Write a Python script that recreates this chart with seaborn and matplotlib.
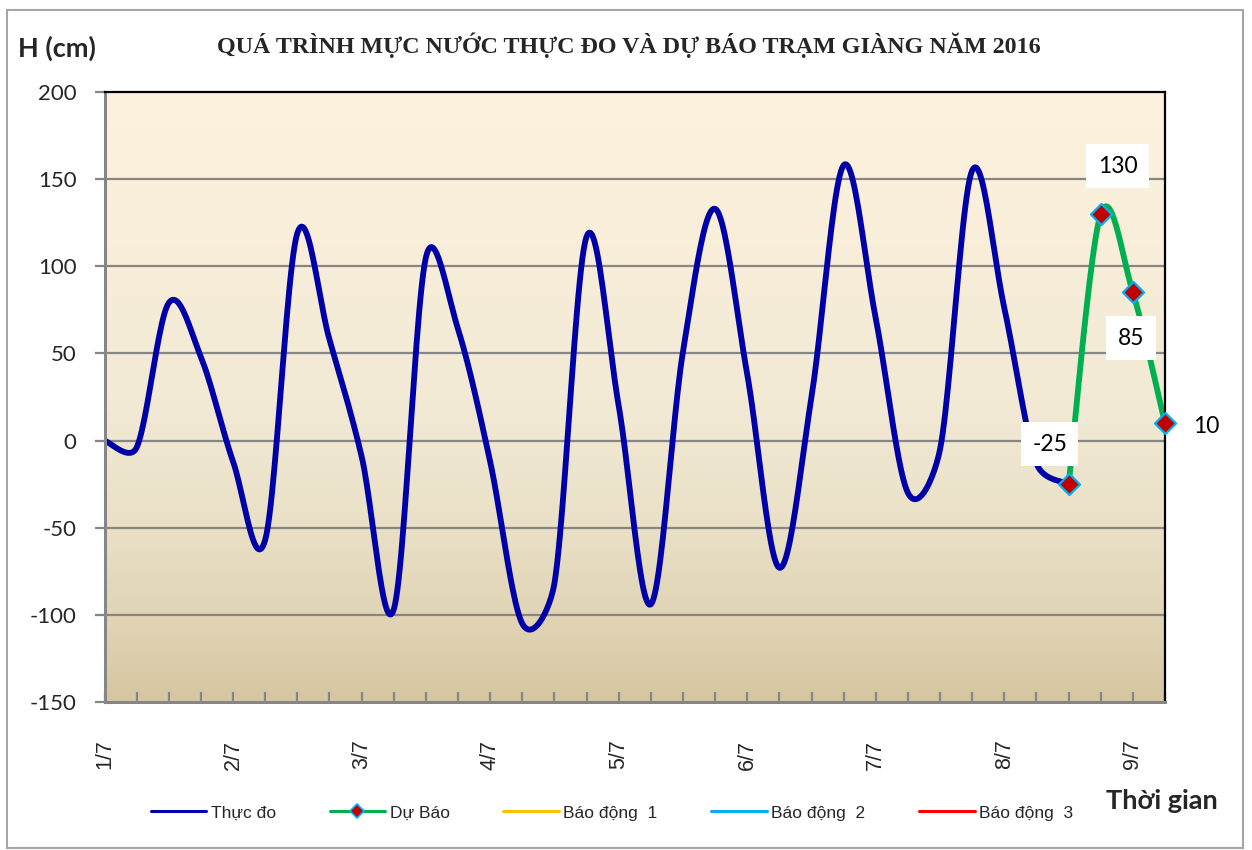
import numpy as np
import pandas as pd
import matplotlib
matplotlib.use("Agg")
import matplotlib.pyplot as plt
import seaborn as sns
from matplotlib.colors import LinearSegmentedColormap
from matplotlib.lines import Line2D
from matplotlib.patches import Rectangle

# ---------------- data ----------------
day_labels = ["1/7", "2/7", "3/7", "4/7", "5/7", "6/7", "7/7", "8/7", "9/7"]
steps_per_day = 4  # 6-hourly observations
observed = [0, -4, 79, 48, -12, -57, 119, 58, -9, -97, 105, 64, -12, -105, -82, 117,
            20, -94, 51, 133, 38, -73, 25, 158, 70, -30, -5, 155, 76, -13, -25]
forecast = [-25, 130, 85, 10]
forecast_start = len(observed) - 1
series_names = ["Thực đo", "Dự Báo", "Báo động  1", "Báo động  2", "Báo động  3"]
series_colors = ["#0000A8", "#00B050", "#FFC000", "#00B0F0", "#FF0000"]
title = "QUÁ TRÌNH MỰC NƯỚC THỰC ĐO VÀ DỰ BÁO TRẠM GIÀNG NĂM 2016"
ylabel = "H (cm)"
xlabel = "Thời gian"
y_min, y_max, y_step = -150, 200, 50

W, H = 1252, 850
L, R, T, B = 104.5, 1165, 92, 702


def smooth(x, y, sx_px, sy_px, n=24):
    """Excel-like Bezier smoothing: arms (P[i+1]-P[i-1])/6, capped at half segment."""
    P = np.column_stack([np.asarray(x, float) * sx_px, np.asarray(y, float) * sy_px])
    k = len(P)
    Q = np.vstack([P[:1], P, P[-1:]])  # padded ends
    pts = []
    t = np.linspace(0, 1, n, endpoint=False)[:, None]
    for i in range(k - 1):
        p0, p1, p2, p3 = Q[i], Q[i + 1], Q[i + 2], Q[i + 3]
        seg = np.linalg.norm(p2 - p1)
        a1 = (p2 - p0) / 6.0
        a2 = (p3 - p1) / 6.0
        for a in (a1, a2):
            la = np.linalg.norm(a)
            if la > seg / 2 and la > 0:
                a *= (seg / 2) / la
        c1 = p1 + a1
        c2 = p2 - a2
        b = ((1 - t) ** 3 * p1 + 3 * (1 - t) ** 2 * t * c1
             + 3 * (1 - t) * t ** 2 * c2 + t ** 3 * p2)
        pts.append(b)
    pts.append(P[-1:])
    pts = np.vstack(pts)
    return pts[:, 0] / sx_px, pts[:, 1] / sy_px


x_max = forecast_start + len(forecast) - 1
px_x = (R - L) / x_max
px_y = (B - T) / (y_max - y_min)

obs_x = np.arange(len(observed))
fc_x = np.arange(forecast_start, forecast_start + len(forecast))
sx, sy = smooth(obs_x, observed, px_x, px_y)
fx, fy = smooth(fc_x, forecast, px_x, px_y)
df_obs = pd.DataFrame({"x": sx, "y": sy})
df_fc = pd.DataFrame({"x": fx, "y": fy})
df_pts = pd.DataFrame({"x": fc_x, "y": forecast})

# ---------------- figure ----------------
sns.set_theme(style="white")
plt.rcParams["font.family"] = ["Liberation Sans", "DejaVu Sans"]
fig = plt.figure(figsize=(W / 100, H / 100), dpi=100)
fig.patch.set_facecolor("white")

ax = fig.add_axes([L / W, 1 - B / H, (R - L) / W, (B - T) / H])
ax.set_xlim(0, x_max)
ax.set_ylim(y_min, y_max)

# gradient background
cmap = LinearSegmentedColormap.from_list(
    "bg", [(0.0, "#D5C6A0"), (0.12, "#DFD3B3"), (0.3, "#EAE1C8"),
           (0.5, "#F2EAD5"), (0.75, "#F8EEDA"), (1.0, "#FDF2DE")])
grad = np.linspace(0, 1, 256).reshape(-1, 1)
ax.imshow(grad, extent=[0, x_max, y_min, y_max], origin="lower", aspect="auto",
          cmap=cmap, zorder=0)

# gridlines
for v in range(y_min + y_step, y_max, y_step):
    ax.axhline(v, color="#868686", lw=1.6, zorder=1)

sns.lineplot(data=df_obs, x="x", y="y", ax=ax, color=series_colors[0], lw=4.2,
             zorder=3, sort=False, estimator=None)
sns.lineplot(data=df_fc, x="x", y="y", ax=ax, color=series_colors[1], lw=4.2,
             zorder=3, sort=False, estimator=None)
sns.scatterplot(data=df_pts, x="x", y="y", ax=ax, marker="D", s=115,
                color="#C00000", edgecolor="#00B0F0", linewidth=1.6, zorder=5,
                clip_on=False)

# data labels (offsets in pixels)
lab_font = dict(family=["Lato", "DejaVu Sans"], fontsize=16.5, color="black")
box = dict(boxstyle="square,pad=0.5", fc="white", ec="none")
label_offsets = [(-19, 40), (17, 48), (-2, -46), (41, -3)]
for (xv, yv), (dx, dy) in zip(zip(fc_x, forecast), label_offsets):
    ax.annotate(f"{yv}", (xv, yv), xytext=(dx * 0.72, dy * 0.72),
                textcoords="offset points", ha="center", va="center",
                bbox=box if abs(dx) < 30 else None, zorder=6,
                annotation_clip=False, **lab_font)

# spines
for s in ["left", "bottom"]:
    ax.spines[s].set_color("#868686")
    ax.spines[s].set_linewidth(2.2)
for s in ["top", "right"]:
    ax.spines[s].set_color("black")
    ax.spines[s].set_linewidth(1.6)
for s in ax.spines.values():
    s.set_zorder(4)

# ticks
ax.set_yticks(np.arange(y_min, y_max + 1, y_step))
ax.set_yticklabels([str(v) for v in range(y_min, y_max + 1, y_step)],
                   family=["Lato", "DejaVu Sans"], fontsize=16)
ax.tick_params(axis="y", direction="out", length=7, width=1.6, color="#868686",
               pad=13, left=True)
xt = np.arange(0, x_max + 1)
ax.set_xticks(xt)
ax.set_xticklabels([day_labels[i // steps_per_day] if i % steps_per_day == 0 else ""
                    for i in xt], rotation=90, fontsize=15.5, va="top")
ax.tick_params(axis="x", direction="in", length=7, width=1.6, color="#868686",
               pad=27, bottom=True)
ax.set_xlabel("")
ax.set_ylabel("")

# texts
fig.text(629 / W, 1 - 45 / H, title, ha="center", va="center", fontsize=17.3,
         fontweight="bold", family=["Liberation Serif", "DejaVu Serif"])
fig.text(18 / W, 1 - 48 / H, ylabel, ha="left", va="center", fontsize=19.5,
         fontweight="bold", family=["Lato", "DejaVu Sans"])
fig.text(1218 / W, 1 - 801 / H, xlabel, ha="right", va="center", fontsize=19.5,
         fontweight="bold", family=["Lato", "DejaVu Sans"])

# legend
handles = [Line2D([], [], color=series_colors[0], lw=2.2),
           Line2D([], [], color=series_colors[1], lw=2.2, marker="D",
                  markersize=7, markerfacecolor="#C00000",
                  markeredgecolor="#00B0F0", markeredgewidth=1.2),
           Line2D([], [], color=series_colors[2], lw=2.2),
           Line2D([], [], color=series_colors[3], lw=2.2),
           Line2D([], [], color=series_colors[4], lw=2.2)]
fig.legend(handles, series_names, loc="center", ncol=5,
           bbox_to_anchor=(612 / W, 1 - 813 / H), frameon=False, fontsize=12.5,
           handlelength=3.2, handletextpad=0.25, columnspacing=3.1)

# outer frame
fig.add_artist(Rectangle((7 / W, 2 / H), 1236 / W, 838 / H, transform=fig.transFigure,
                         fill=False, ec="#A6A6A6", lw=1.5))

fig.savefig("out.png", dpi=100)
